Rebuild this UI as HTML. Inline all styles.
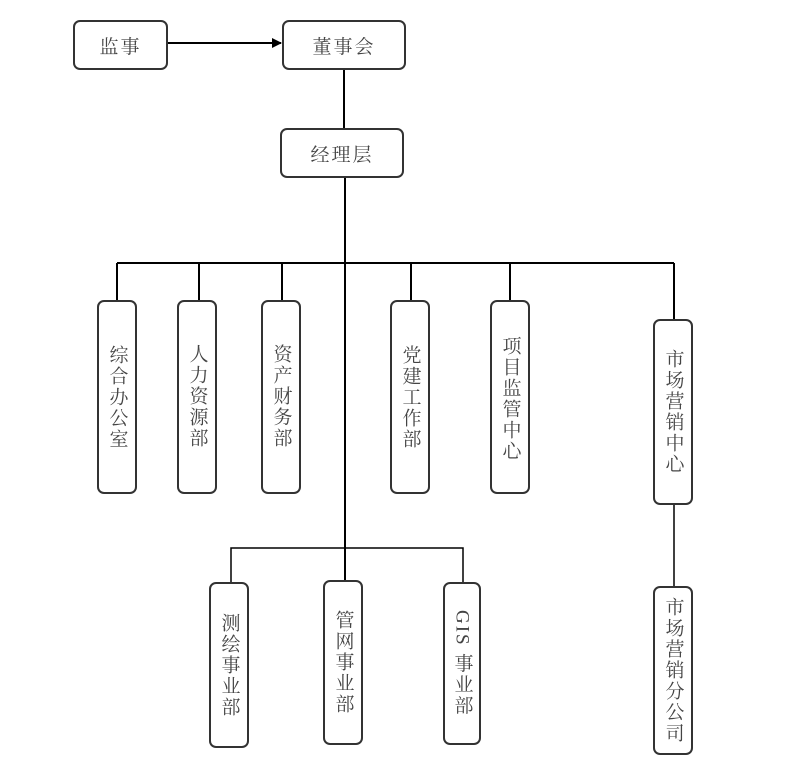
<!DOCTYPE html>
<html><head><meta charset="utf-8"><style>
body{margin:0;background:#fff;width:793px;height:784px;overflow:hidden;}
svg{position:absolute;left:0;top:0}
.b{position:absolute;border:2px solid #333;border-radius:7px;box-sizing:border-box;background:#fff;color:#444;
font-family:"Liberation Serif","Noto Serif CJK SC",serif;font-size:19px;display:flex;align-items:center;justify-content:center}
.v span{writing-mode:vertical-rl;text-orientation:upright;letter-spacing:2px;line-height:1}
.h{letter-spacing:2px}
.t{align-items:flex-start}
</style></head><body>
<svg width="793" height="784">
<defs><marker id="a" markerWidth="10" markerHeight="10" refX="9" refY="5" orient="auto" markerUnits="userSpaceOnUse"><path d="M0,0 L10,5 L0,10 Z" fill="#000"/></marker></defs>
<g stroke="#000" stroke-width="2" fill="none">
<line x1="168" y1="43" x2="281" y2="43" marker-end="url(#a)"/>
<line x1="344" y1="70" x2="344" y2="128"/>
<line x1="345" y1="177" x2="345" y2="580"/>
<line x1="117" y1="263" x2="674" y2="263"/>
<line x1="117" y1="263" x2="117" y2="300"/>
<line x1="199" y1="263" x2="199" y2="300"/>
<line x1="282" y1="263" x2="282" y2="300"/>
<line x1="411" y1="263" x2="411" y2="300"/>
<line x1="510" y1="263" x2="510" y2="300"/>
<line x1="674" y1="263" x2="674" y2="319"/>
<line x1="674" y1="505" x2="674" y2="586" stroke-width="1.5"/>
<polyline points="231,582 231,548 463,548 463,582" stroke-width="1.5"/>
</g></svg>
<div class="b h" style="left:73px;top:20px;width:95px;height:50px">监事</div>
<div class="b h" style="left:282px;top:20px;width:124px;height:50px">董事会</div>
<div class="b h" style="left:280px;top:128px;width:124px;height:50px">经理层</div>
<div class="b v" style="left:97px;top:300px;width:40px;height:194px"><span>综合办公室</span></div>
<div class="b v t" style="left:177px;top:300px;width:40px;height:194px;padding-top:42px"><span>人力资源部</span></div>
<div class="b v t" style="left:261px;top:300px;width:40px;height:194px;padding-top:42px"><span>资产财务部</span></div>
<div class="b v" style="left:390px;top:300px;width:40px;height:194px"><span>党建工作部</span></div>
<div class="b v t" style="left:490px;top:300px;width:40px;height:194px;padding-top:34px"><span>项目监管中心</span></div>
<div class="b v" style="left:653px;top:319px;width:40px;height:186px"><span>市场营销中心</span></div>
<div class="b v" style="left:209px;top:582px;width:40px;height:166px"><span>测绘事业部</span></div>
<div class="b v t" style="left:323px;top:580px;width:40px;height:165px;padding-top:28px"><span>管网事业部</span></div>
<div class="b" style="left:443px;top:582px;width:38px;height:163px"><span style="writing-mode:vertical-rl;letter-spacing:2px">GIS 事业部</span></div>
<div class="b v" style="left:653px;top:586px;width:40px;height:169px"><span>市场营销分公司</span></div>
</body></html>
